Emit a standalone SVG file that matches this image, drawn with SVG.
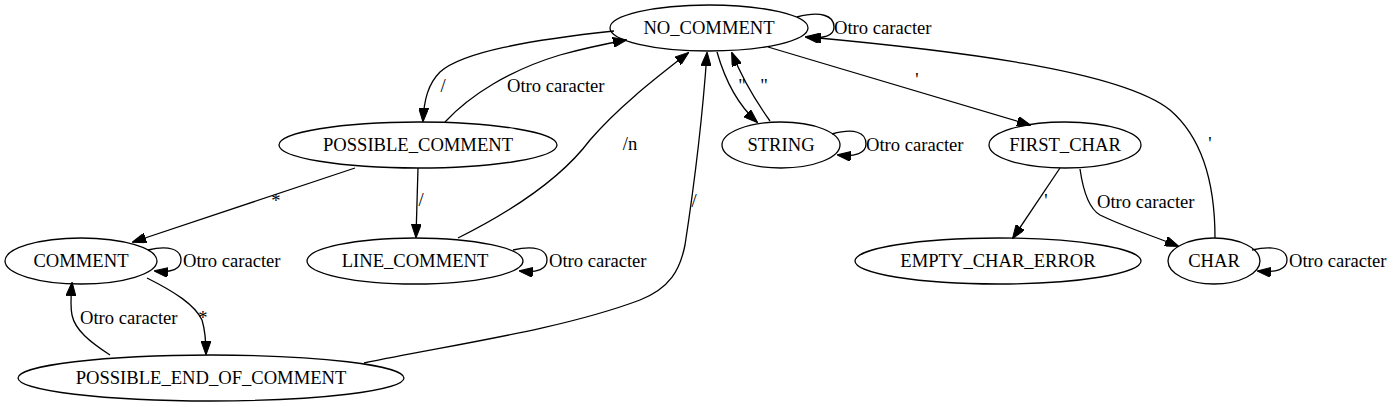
<svg xmlns="http://www.w3.org/2000/svg" width="1393" height="407" viewBox="0 0 1393 407">
<style>
.n ellipse{fill:none;stroke:#000;stroke-width:1.3}
text{font-family:"Liberation Serif","Times New Roman",serif;font-size:18.6px;fill:#000}
.n text{text-anchor:middle}
.e path{fill:none;stroke:#000;stroke-width:1.3;marker-end:url(#a)}
</style>
<defs>
<marker id="a" markerUnits="userSpaceOnUse" markerWidth="14" markerHeight="10" viewBox="0 0 14 10" refX="13" refY="5" orient="auto">
<path d="M0,0 L14,5 L0,10 z" fill="#000" stroke="#000" stroke-width="1"/>
</marker>
</defs>
<rect width="1393" height="407" fill="#fff"/>
<g id="NO_COMMENT" class="n"><ellipse cx="709" cy="28" rx="99" ry="23"/><text x="709" y="34">NO_COMMENT</text></g>
<g id="POSSIBLE_COMMENT" class="n"><ellipse cx="418" cy="145" rx="139" ry="23"/><text x="418" y="151">POSSIBLE_COMMENT</text></g>
<g id="STRING" class="n"><ellipse cx="781" cy="145" rx="59" ry="23"/><text x="781" y="151">STRING</text></g>
<g id="FIRST_CHAR" class="n"><ellipse cx="1065" cy="145" rx="76" ry="23"/><text x="1065" y="151">FIRST_CHAR</text></g>
<g id="COMMENT" class="n"><ellipse cx="81" cy="261" rx="76" ry="23"/><text x="81" y="267">COMMENT</text></g>
<g id="LINE_COMMENT" class="n"><ellipse cx="415" cy="261" rx="108" ry="23"/><text x="415" y="267">LINE_COMMENT</text></g>
<g id="EMPTY_CHAR_ERROR" class="n"><ellipse cx="998" cy="261" rx="143" ry="23"/><text x="998" y="267">EMPTY_CHAR_ERROR</text></g>
<g id="CHAR" class="n"><ellipse cx="1214" cy="261" rx="46" ry="23"/><text x="1214" y="267">CHAR</text></g>
<g id="POSSIBLE_END_OF_COMMENT" class="n"><ellipse cx="211" cy="378" rx="193" ry="23"/><text x="211" y="384">POSSIBLE_END_OF_COMMENT</text></g>
<g id="edges" class="e">
<path d="M797,17 C820,11 834,15 834,27 C834,36 824,39 806,37"/>
<text x="834" y="34">Otro caracter</text>
<path d="M614,31 C530,40 462,52 440,72 C428,84 424,100 423,121"/>
<text x="443" y="92" text-anchor="middle">/</text>
<path d="M445,122 C470,95 510,70 560,55 C585,48 605,44 626,40"/>
<text x="507" y="92">Otro caracter</text>
<path d="M355,168 L133,242"/>
<text x="276" y="207" text-anchor="middle">*</text>
<path d="M418,168 L416,237"/>
<text x="421" y="206" text-anchor="middle">/</text>
<path d="M458,238 C510,212 560,180 590,140 C620,105 660,75 688,53"/>
<text x="630" y="150" text-anchor="middle">/n</text>
<path d="M364,363 C450,345 560,330 640,300 C670,288 680,270 685,245 C695,180 703,110 707,53"/>
<text x="694" y="207" text-anchor="middle">/</text>
<path d="M717,52 C725,80 738,105 757,122"/>
<text x="742" y="92" text-anchor="middle">"</text>
<path d="M770,121 C755,100 742,78 732,53"/>
<text x="764" y="92" text-anchor="middle">"</text>
<path d="M832,134 C854,128 866,132 866,144 C866,153 856,157 838,155"/>
<text x="866" y="151">Otro caracter</text>
<path d="M768,47 L1030,125"/>
<text x="917" y="86" text-anchor="middle">'</text>
<path d="M1215,238 C1215,190 1205,140 1170,110 C1120,70 950,50 808,37"/>
<text x="1210" y="150" text-anchor="middle">'</text>
<path d="M1060,168 L1013,238"/>
<text x="1046" y="207" text-anchor="middle">'</text>
<path d="M1080,169 C1083,190 1088,208 1100,215 C1120,225 1150,235 1178,246"/>
<text x="1097" y="208">Otro caracter</text>
<path d="M148,250 C168,245 181,249 181,260 C181,269 172,273 155,271"/>
<text x="183" y="267">Otro caracter</text>
<path d="M513,250 C534,245 547,249 547,260 C547,269 538,273 520,271"/>
<text x="549" y="267">Otro caracter</text>
<path d="M1252,250 C1273,245 1287,249 1287,260 C1287,269 1277,273 1258,271"/>
<text x="1289" y="267">Otro caracter</text>
<path d="M147,278 C175,292 195,305 202,320 C205,330 206,340 206,354"/>
<text x="203" y="324" text-anchor="middle">*</text>
<path d="M110,355 C90,342 75,330 72,315 C70,305 71,295 72,283"/>
<text x="80" y="324">Otro caracter</text>
</g>
</svg>
